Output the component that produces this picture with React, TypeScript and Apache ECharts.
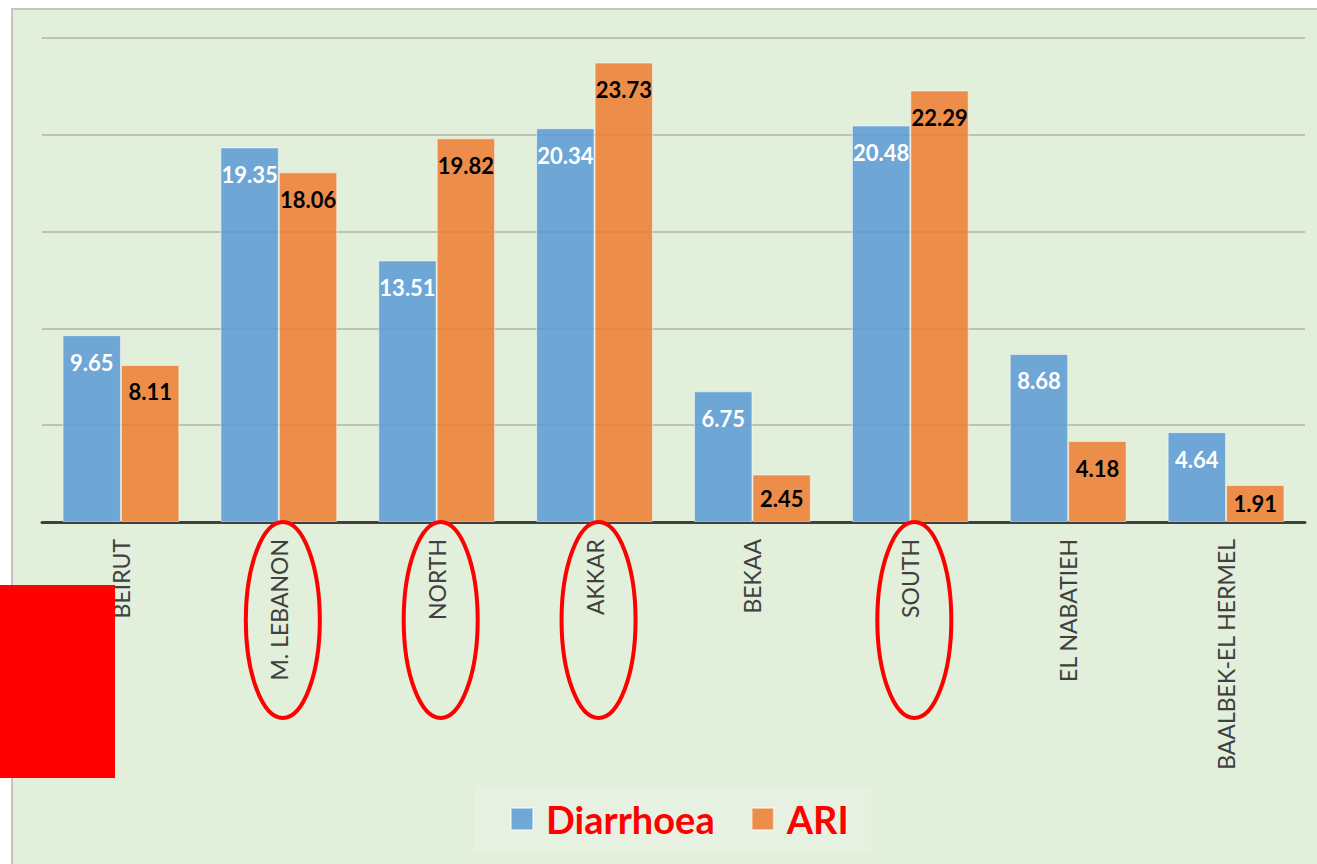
import React, { useEffect, useRef } from "react";
import * as echarts from "echarts";

const categories = ["BEIRUT", "M. LEBANON", "NORTH", "AKKAR", "BEKAA", "SOUTH", "EL NABATIEH", "BAALBEK-EL HERMEL"];
const diarrhoea = [9.65, 19.35, 13.51, 20.34, 6.75, 20.48, 8.68, 4.64];
const ari = [8.11, 18.06, 19.82, 23.73, 2.45, 22.29, 4.18, 1.91];
const circled = ["M. LEBANON", "NORTH", "AKKAR", "SOUTH"];

const FONT = "Lato, 'Open Sans', sans-serif";

export default function App() {
  const ref = useRef<HTMLDivElement>(null);
  useEffect(() => {
    const el = ref.current!;
    const chart = echarts.init(el, null, { renderer: "svg" });
    const labelBase = {
      show: true,
      position: "insideTop",
      distance: 16,
      fontFamily: FONT,
      fontWeight: "bold",
      fontSize: 22,
      formatter: (p: any) => p.value.toFixed(2),
    };
    const toItems = (arr: number[]) =>
      arr.map((v) => (v < 3 ? { value: v, label: { position: "inside" } } : v));
    chart.setOption({
      animation: false,
      backgroundColor: "#ffffff",
      grid: { left: 42, right: 12, top: 38, bottom: 342, containLabel: false },
      xAxis: {
        type: "category",
        data: categories,
        axisLine: { lineStyle: { color: "#404040", width: 3 } },
        axisTick: { show: false },
        axisLabel: {
          rotate: 90,
          color: "#404040",
          fontFamily: FONT,
          fontSize: 23,
          margin: 17,
        },
      },
      yAxis: {
        type: "value",
        min: 0,
        max: 25,
        interval: 5,
        axisLabel: { show: false },
        axisLine: { show: false },
        axisTick: { show: false },
        splitLine: { lineStyle: { color: "#ABB7A3", width: 1.5 } },
      },
      legend: {
        left: 474,
        top: 786,
        padding: [14, 22, 14, 36],
        backgroundColor: "#E7F1E2",
        itemWidth: 22,
        itemHeight: 22,
        itemGap: 36,
        icon: "rect",
        textStyle: { color: "#FF0000", fontFamily: FONT, fontWeight: "bold", fontSize: 38, padding: [0, 0, 0, 8] },
        data: ["Diarrhoea", "ARI"],
      },
      series: [
        {
          name: "Diarrhoea",
          type: "bar",
          data: toItems(diarrhoea),
          barGap: "0%",
          barCategoryGap: "26%",
          itemStyle: { color: "rgba(91,155,213,0.86)", borderColor: "rgba(255,255,255,0.5)", borderWidth: 1 },
          label: { ...labelBase, color: "#ffffff" },
        },
        {
          name: "ARI",
          type: "bar",
          data: toItems(ari),
          itemStyle: { color: "rgba(237,125,49,0.86)", borderColor: "rgba(255,255,255,0.5)", borderWidth: 1 },
          label: { ...labelBase, color: "#000000" },
        },
      ],
    });
    const ellipses = circled.map((c) => {
      const x = chart.convertToPixel({ xAxisIndex: 0 }, c) as number;
      return {
        type: "ellipse",
        shape: { cx: x + 4, cy: 620, rx: 37, ry: 98 },
        style: { fill: "none", stroke: "#FF0000", lineWidth: 4 },
        z: 100,
      };
    });
    chart.setOption({
      graphic: [
        {
          type: "rect",
          shape: { x: 12, y: 9, width: 1320, height: 870 },
          style: { fill: "#E2EFDA", stroke: "#C4C4C4", lineWidth: 2 },
          z: -10,
          silent: true,
        },
        ...ellipses,
        {
          type: "rect",
          shape: { x: 0, y: 585, width: 115, height: 193 },
          style: { fill: "#FF0000" },
          z: 100,
        },
      ],
    });
    return () => chart.dispose();
  }, []);
  return <div ref={ref} style={{ position: "absolute", left: 0, top: 0, width: 1317, height: 864 }} />;
}
